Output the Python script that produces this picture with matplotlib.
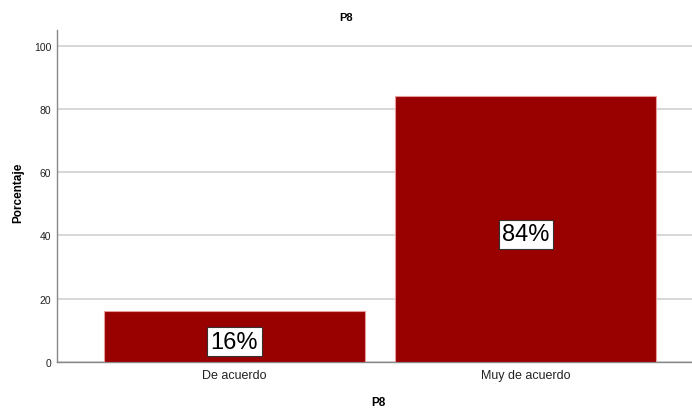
import matplotlib.pyplot as plt

categorias = ['De acuerdo', 'Muy de acuerdo']
porcentajes = [16, 84]
etiquetas = ['16%', '84%']

plt.rcParams['font.family'] = ['Liberation Sans', 'DejaVu Sans']

fig = plt.figure(figsize=(6.92, 4.10), dpi=100)
ax = fig.add_axes([0.0824, 0.1146, 0.934, 0.81])

x = range(len(categorias))
ax.bar(x, porcentajes, width=0.895, color='#990000', edgecolor='#e89a9a',
       linewidth=0.8, zorder=3)

for i, v in enumerate(porcentajes):
    ax.text(i, v / 2 - 1.6, etiquetas[i], ha='center', va='center', fontsize=17,
            color='black', zorder=4,
            bbox=dict(boxstyle='square,pad=0.15', facecolor='white',
                      edgecolor='#333333', linewidth=0.8))

ax.set_xlim(-0.609, 0.609 + 1)
ax.set_ylim(0, 105)
ax.set_yticks([0, 20, 40, 60, 80, 100])
ax.set_xticks(list(x))
ax.set_xticklabels(categorias, fontsize=9, color='#222222')
ax.tick_params(axis='y', labelsize=7.5, colors='#222222', length=0, pad=4)
ax.tick_params(axis='x', length=0, pad=5)

ax.grid(axis='y', color='#d4d4d4', linewidth=1.3, zorder=0)
for s in ['top', 'right']:
    ax.spines[s].set_visible(False)
ax.spines['left'].set_color('#888888')
ax.spines['bottom'].set_color('#888888')
ax.spines['left'].set_linewidth(1.0)
ax.spines['bottom'].set_linewidth(1.0)

fig.text(0.5, 0.955, 'P8', ha='center', va='center', fontsize=8,
         fontweight='bold')
fig.text(0.547, 0.018, 'P8', ha='center', va='center', fontsize=8.5,
         fontweight='bold')
fig.text(0.026, 0.53, 'Porcentaje', ha='center', va='center', fontsize=8.5,
         fontweight='bold', rotation=90)

fig.savefig('out.png', dpi=100)
